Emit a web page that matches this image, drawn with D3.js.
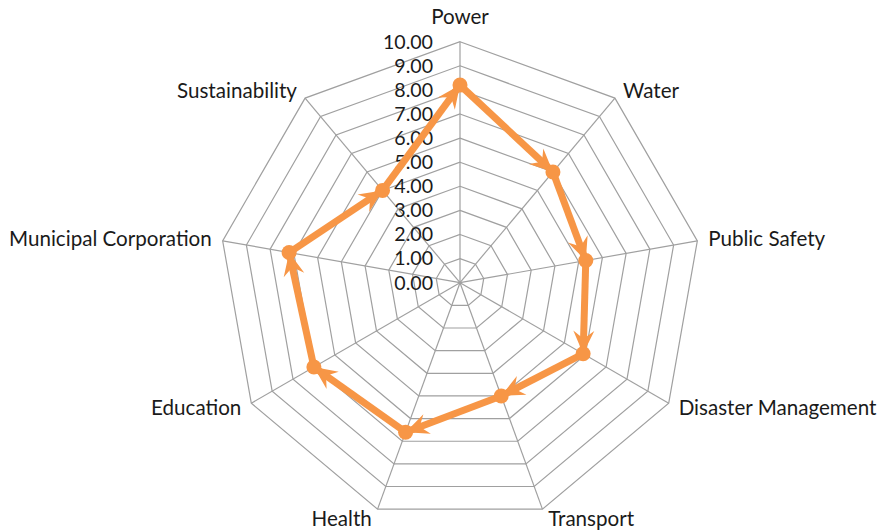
<!DOCTYPE html>
<html>
<head>
<meta charset="utf-8">
<script src="https://cdn.jsdelivr.net/npm/d3@7"></script>
<style>
  html, body { margin: 0; padding: 0; background: #ffffff; }
  svg { display: block; }
  text { font-family: Lato, "Liberation Sans", sans-serif; fill: #1a1a1a; }
</style>
</head>
<body>
<div id="chart"></div>
<script>
// ---- data ----
const categories = ["Power", "Water", "Public Safety", "Disaster Management", "Transport", "Health", "Education", "Municipal Corporation", "Sustainability"];
const values = [8.2, 6.0, 5.3, 5.9, 5.0, 6.6, 7.0, 7.2, 5.0];
const tickValues = [0, 1, 2, 3, 4, 5, 6, 7, 8, 9, 10];
const tickLabels = ["0.00", "1.00", "2.00", "3.00", "4.00", "5.00", "6.00", "7.00", "8.00", "9.00", "10.00"];

// ---- layout ----
const W = 883, H = 532;
const cx = 460, cy = 282.7, R = 241;
const fsCat = 20.6, fsTick = 19.6;
const orange = "#F79646";
const gridColor = "#A0A0A0";

const svg = d3.select("#chart").append("svg").attr("width", W).attr("height", H);

const rScale = d3.scaleLinear().domain([0, 10]).range([0, R]);
const angleScale = d3.scaleLinear().domain([0, categories.length]).range([Math.PI / 2, Math.PI / 2 - 2 * Math.PI]);

function pt(i, v) {
  const a = angleScale(i), r = rScale(v);
  return [cx + r * Math.cos(a), cy - r * Math.sin(a)];
}

// grid rings
const gGrid = svg.append("g");
tickValues.filter(t => t > 0).forEach(t => {
  gGrid.append("path")
    .attr("d", d3.line()(categories.map((c, i) => pt(i, t))) + "Z")
    .attr("fill", "none").attr("stroke", gridColor).attr("stroke-width", 1.2);
});
// spokes
categories.forEach((c, i) => {
  const [x, y] = pt(i, 10);
  gGrid.append("line").attr("x1", cx).attr("y1", cy).attr("x2", x).attr("y2", y)
    .attr("stroke", gridColor).attr("stroke-width", 1.2);
});

// tick labels
svg.append("g").selectAll("text").data(tickValues).join("text")
  .attr("x", cx - 27)
  .attr("y", (d) => cy - rScale(d) + 0.35 * fsTick)
  .attr("text-anchor", "end")
  .attr("font-size", fsTick)
  .text((d, i) => tickLabels[i]);

// category labels
svg.append("g").selectAll("text").data(categories).join("text")
  .each(function (d, i) {
    const a = angleScale(i);
    const c = Math.cos(a), s = Math.sin(a);
    const [vx, vy] = pt(i, 10);
    let anchor, x, capCenter;
    if (Math.abs(c) < 0.1) {
      anchor = "middle"; x = vx; capCenter = vy - 25 * Math.sign(s);
    } else {
      anchor = c > 0 ? "start" : "end";
      x = vx + Math.sign(c) * (3 + 8 * Math.abs(c));
      capCenter = vy - 10 * s;
    }
    d3.select(this).attr("x", x).attr("y", capCenter + 0.35 * fsCat)
      .attr("text-anchor", anchor).attr("font-size", fsCat).text(d);
  });

// arrow marker
const defs = svg.append("defs");
defs.append("marker")
  .attr("id", "arrow")
  .attr("markerUnits", "userSpaceOnUse")
  .attr("viewBox", "-24 -12 26 24")
  .attr("refX", 0).attr("refY", 0)
  .attr("markerWidth", 26).attr("markerHeight", 24)
  .attr("orient", "auto")
  .append("path")
  .attr("d", "M0,0 L-23,-10.5 L-15,0 L-23,10.5 Z")
  .attr("fill", orange);

// series segments
const pts = values.map((v, i) => pt(i, v));
const gSeries = svg.append("g");
pts.forEach((p, i) => {
  const q = pts[(i + 1) % pts.length];
  gSeries.append("path")
    .attr("d", d3.line()([p, q]))
    .attr("stroke", orange).attr("stroke-width", 7).attr("fill", "none")
    .attr("marker-end", "url(#arrow)");
});
gSeries.selectAll("circle").data(pts).join("circle")
  .attr("cx", d => d[0]).attr("cy", d => d[1]).attr("r", 7.5)
  .attr("fill", orange);
</script>
</body>
</html>
